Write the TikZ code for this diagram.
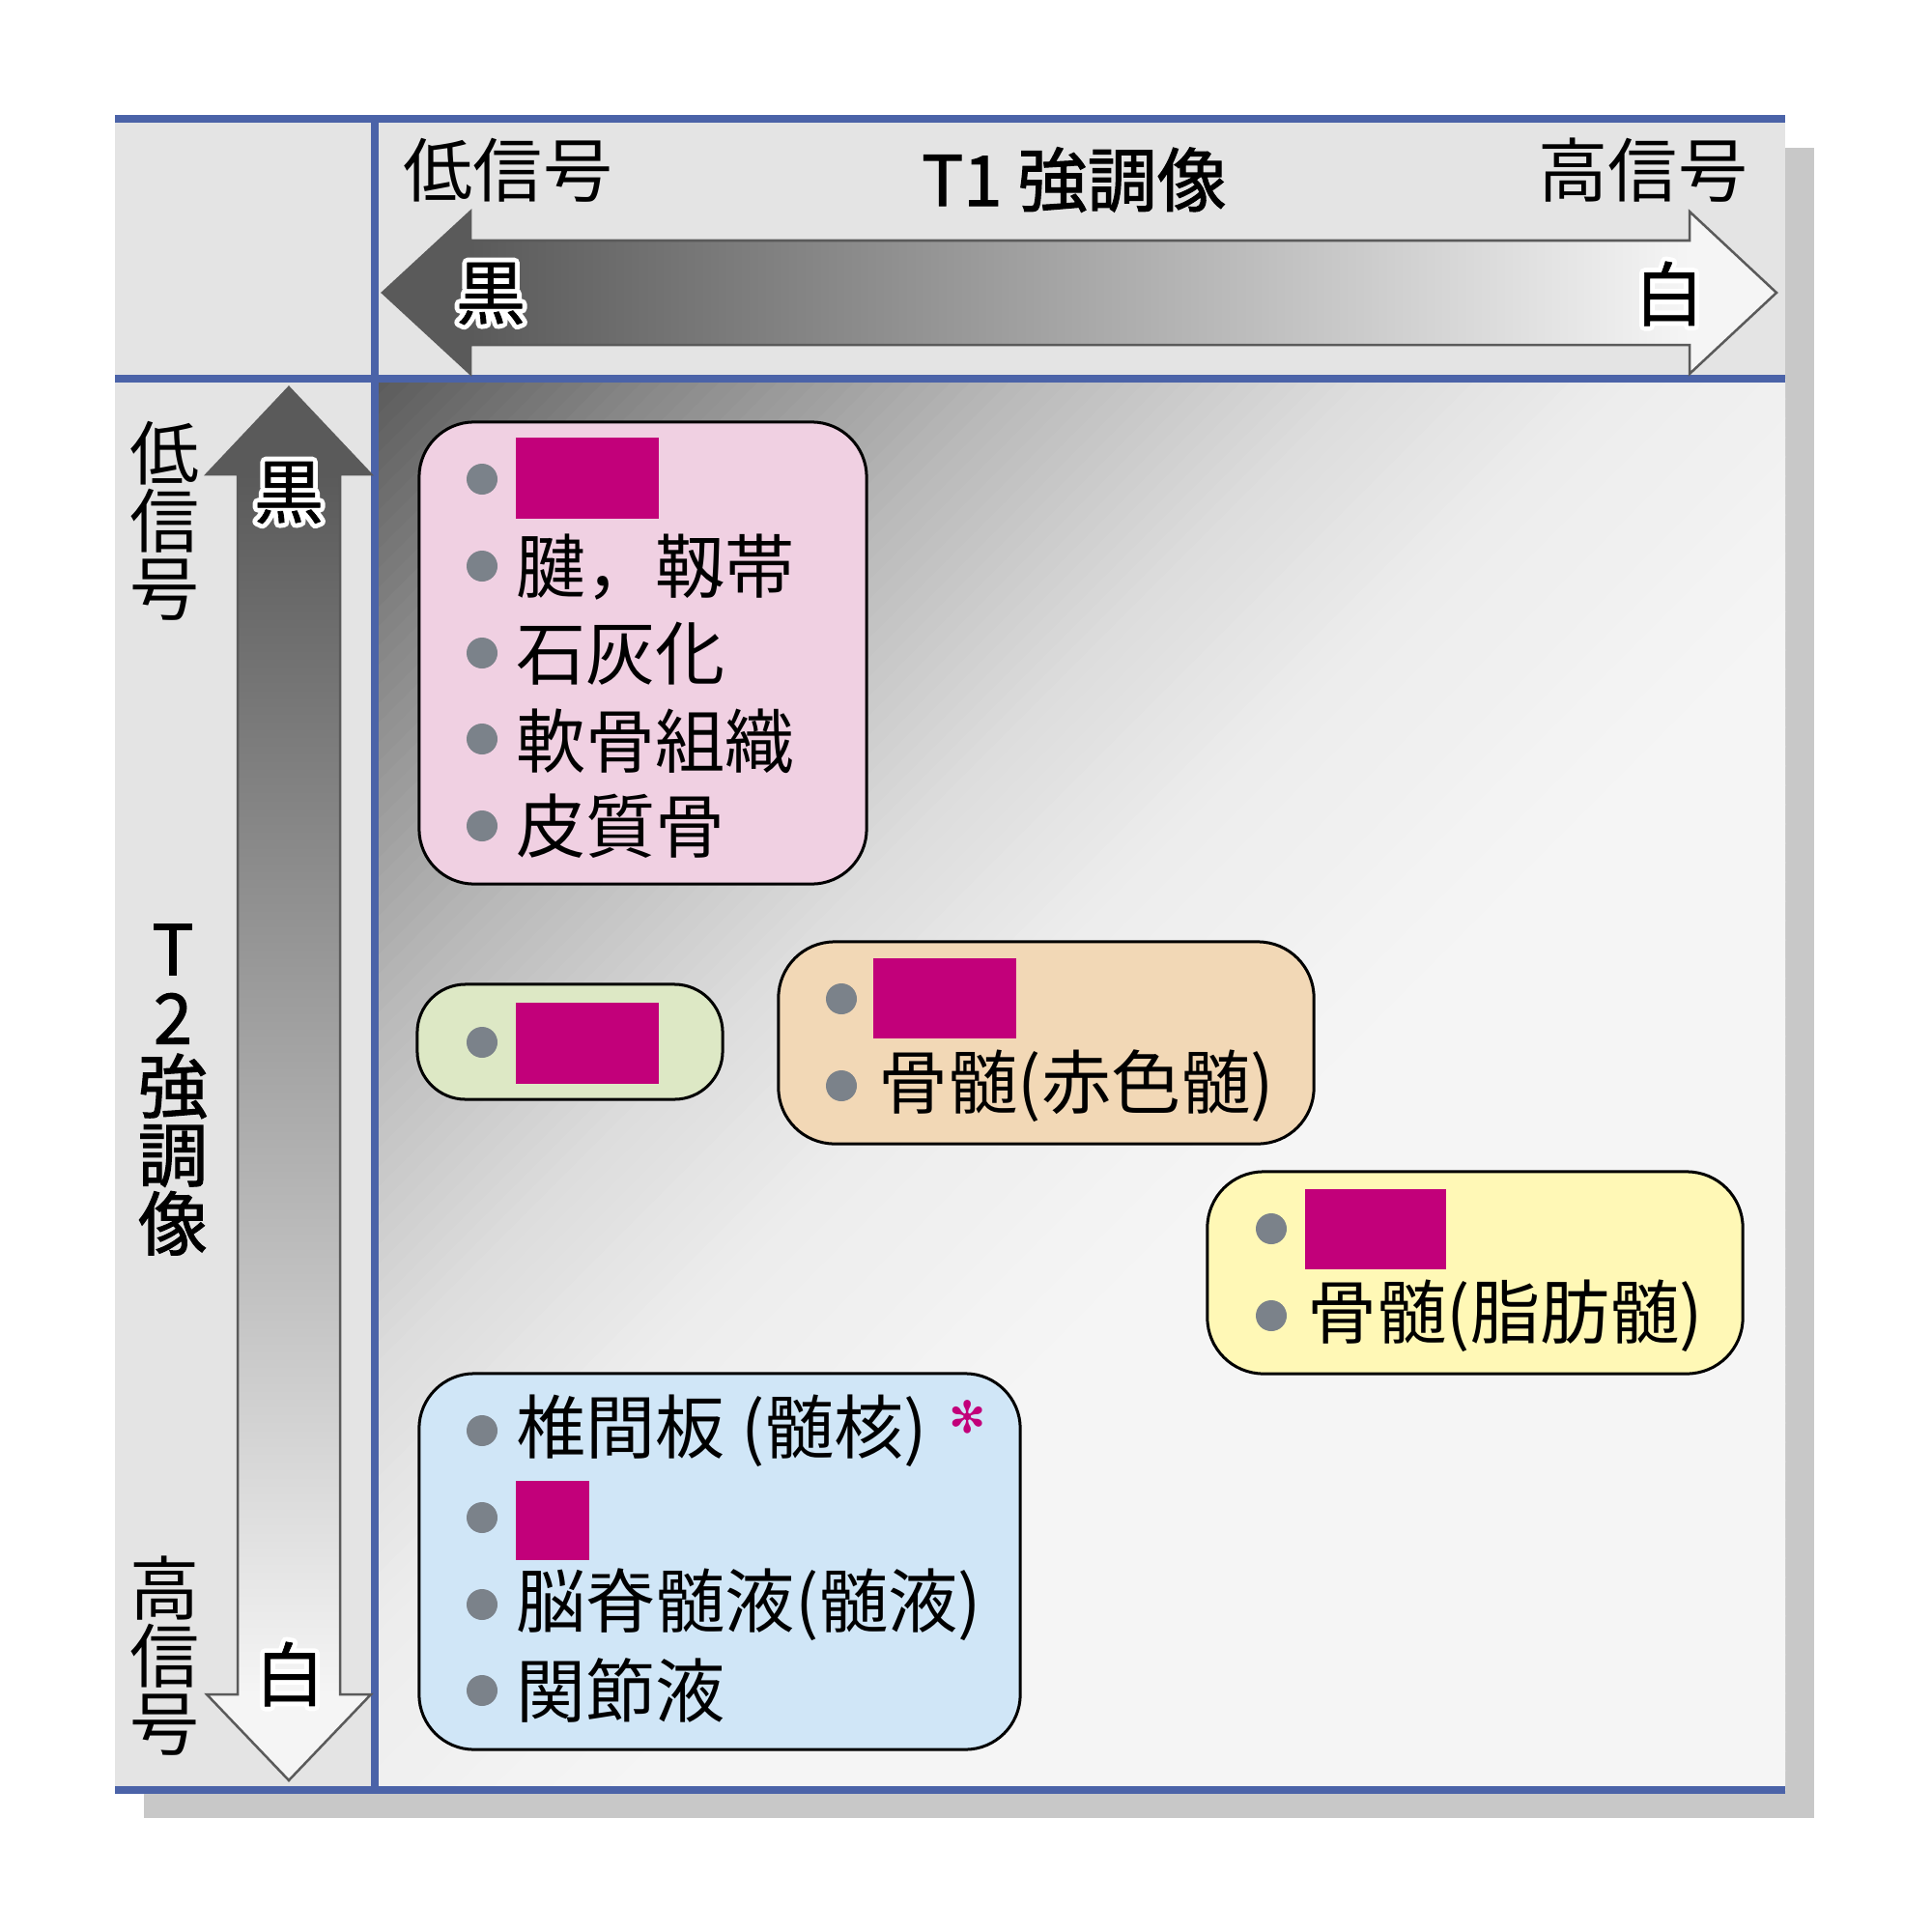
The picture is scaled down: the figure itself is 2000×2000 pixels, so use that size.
\documentclass[tikz,border=0pt]{standalone}
\usepackage{fontspec}
\usetikzlibrary{calc}
\newfontfamily\jp{Noto Sans CJK JP}
\newfontfamily\jpm{Noto Sans CJK JP}[FakeBold=1.5]
\newfontfamily\jph{Noto Sans CJK JP}[FakeBold=1]
\newfontfamily\symf{DejaVu Sans}
\definecolor{framegray}{RGB}{228,228,228}
\definecolor{shadowgray}{RGB}{200,200,200}
\definecolor{frameblue}{RGB}{75,99,168}
\definecolor{adark}{RGB}{90,90,90}
\definecolor{alight}{RGB}{245,245,245}
\definecolor{aline}{RGB}{90,90,90}
\definecolor{bulletgray}{RGB}{123,130,138}
\definecolor{mag}{RGB}{194,0,122}
\definecolor{boxpink}{RGB}{240,208,226}
\definecolor{boxgreen}{RGB}{221,232,197}
\definecolor{boxbeige}{RGB}{242,216,182}
\definecolor{boxyellow}{RGB}{255,248,182}
\definecolor{boxblue}{RGB}{208,230,247}
\newcommand\myfs{\fontsize{20.5pt}{20.5pt}\selectfont}
\newcommand\myvfs{\fontsize{20.5pt}{19.9pt}\selectfont}
\newcommand\mytfs{\fontsize{20.5pt}{20.2pt}\selectfont}
% black glyph with a white outline, set as one piece of text
\newcommand\halochar[1]{\rlap{\jp\special{pdf:literal direct 1 Tr 1 j 3 w}\textcolor{white}{#1}\special{pdf:literal direct 0 Tr}}{\jph #1}}
\tikzset{
  blueline/.style={draw=frameblue, line width=0.08cm},
  arrowline/.style={draw=aline, line width=0.025cm, line join=miter},
  lbl/.style={inner sep=0pt, font=\jp\myfs},
  vlbl/.style={inner sep=0pt, align=center, font=\jp\myvfs},
  halotext/.style={inner sep=0pt, font=\jp\myfs},
  boxtext/.style={anchor=west, inner sep=0pt, font=\jp\myfs},
  boxshape/.style={draw=black, line width=0.03cm, rounded corners=0.57cm, inner sep=0pt},
  bul/.style={fill=bulletgray},
  magrect/.style={fill=mag},
}
\begin{document}
\begin{tikzpicture}[x=0.01cm,y=-0.01cm]
\useasboundingbox (0,0) rectangle (2000,2000);
\fill[white] (0,0) rectangle (2000,2000);
% shadow and frame
\fill[shadowgray] (149,153) rectangle (1878,1882);
\fill[framegray] (119,123) rectangle (1848,1853);
% main gradient
\begin{scope}
\clip (388,392) rectangle (1848,1853);
\foreach \a in {0,20,...,2920}{
  \pgfmathsetmacro\v{\a<300 ? 0.36+0.18*\a/300 : (\a<650 ? 0.54+0.18*(\a-300)/350 : (\a<1000 ? 0.72+0.14*(\a-650)/350 : (\a<1300 ? 0.86+0.07*(\a-1000)/300 : (\a<1700 ? 0.93+0.03*(\a-1300)/400 : 0.96))))}
  \definecolor{stripc}{gray}{\v}
  \fill[stripc] (388+\a,392) -- (388+\a+22,392) -- (388,392+\a+22) -- (388,392+\a) -- cycle;
}
\end{scope}
% blue lines
\draw[blueline] (119,123) -- (1848,123);
\draw[blueline] (119,1853) -- (1848,1853);
\draw[blueline] (119,392) -- (1848,392);
\draw[blueline] (388,123) -- (388,1853);
% horizontal arrow (T1)
\fill[adark] (396,303) -- (487,219) -- (487,387) -- cycle;
\shade[left color=adark, right color=alight] (487,249) rectangle (1749,357);
\fill[alight] (1749,219) -- (1839,303) -- (1749,387) -- cycle;
\draw[arrowline] (396,303) -- (487,219) -- (487,249) -- (1749,249) -- (1749,219) -- (1839,303) -- (1749,387) -- (1749,357) -- (487,357) -- (487,387) -- cycle;
% vertical arrow (T2)
\fill[adark] (299,401) -- (384,491) -- (214,491) -- cycle;
\shade[top color=adark, bottom color=alight] (246,491) rectangle (352,1754);
\fill[alight] (214,1754) -- (384,1754) -- (299,1843) -- cycle;
\draw[arrowline] (299,401) -- (384,491) -- (352,491) -- (352,1754) -- (384,1754) -- (299,1843) -- (214,1754) -- (246,1754) -- (246,491) -- (214,491) -- cycle;
% halo labels
\node[halotext] (blackh) at (508,304) {\halochar{黒}};
\node[halotext] (whiteh) at (1728,304) {\halochar{白}};
\node[halotext] (blackv) at (299,510) {\halochar{黒}};
\node[halotext] (whitev) at (300,1733) {\halochar{白}};
% header labels
\node[lbl, font=\jpm\myfs] (t1title) at (1112,186) {T1 強調像};
\node[lbl] (lowtop) at (526,176) {低信号};
\node[lbl] (hightop) at (1701,176) {高信号};
\node[vlbl] (lowleft) at (171,539) {低\\信\\号};
\node[vlbl] (highleft) at (171,1714) {高\\信\\号};
\node[vlbl, font=\jpm\mytfs] (t2title) at (179,1128) {T\\2\\強\\調\\像};
% box 1 (pink)
\node[boxshape, fill=boxpink, minimum width=4.63cm, minimum height=4.78cm] (box1) at (665.5,676) {};
\fill[bul] (499,496) circle (16);
\fill[magrect] (534,453) rectangle (682,537);
\fill[bul] (499,586) circle (16);
\node[boxtext] (b1a) at (534,587) {腱，靱帯};
\fill[bul] (499,676) circle (16);
\node[boxtext] (b1b) at (534,677) {石灰化};
\fill[bul] (499,765) circle (16);
\node[boxtext] (b1c) at (534,767) {軟骨組織};
\fill[bul] (499,855) circle (16);
\node[boxtext] (b1d) at (534,855) {皮質骨};
% box 2 (green)
\node[boxshape, fill=boxgreen, rounded corners=0.5cm, minimum width=3.16cm, minimum height=1.19cm] (box2) at (590,1078.5) {};
\fill[bul] (499,1079) circle (16);
\fill[magrect] (534,1038) rectangle (682,1122);
% box 3 (beige)
\node[boxshape, fill=boxbeige, rounded corners=0.58cm, minimum width=5.54cm, minimum height=2.09cm] (box3) at (1083,1079.5) {};
\fill[bul] (871,1034) circle (16);
\fill[magrect] (904,992) rectangle (1052,1075);
\fill[bul] (871,1124) circle (16);
\node[boxtext] (b3a) at (909,1124) {骨髄(赤色髄)};
% box 4 (yellow)
\node[boxshape, fill=boxyellow, rounded corners=0.58cm, minimum width=5.54cm, minimum height=2.09cm] (box4) at (1527,1317.5) {};
\fill[bul] (1316,1272) circle (16);
\fill[magrect] (1351,1231) rectangle (1497,1314);
\fill[bul] (1316,1362) circle (16);
\node[boxtext] (b4a) at (1353,1362) {骨髄(脂肪髄)};
% box 5 (blue)
\node[boxshape, fill=boxblue, minimum width=6.22cm, minimum height=3.89cm] (box5) at (745,1616.5) {};
\fill[bul] (499,1481) circle (16);
\node[boxtext] (b5a) at (534,1481) {椎間板 (髄核)};
\node[inner sep=0pt, text=mag, font=\symf\fontsize{13pt}{13pt}\selectfont] (ast) at (1002,1467) {✻};
\fill[bul] (499,1571) circle (16);
\fill[magrect] (534,1533) rectangle (610,1615);
\fill[bul] (499,1661) circle (16);
\node[boxtext] (b5c) at (534,1661) {脳脊髄液(髄液)};
\fill[bul] (499,1750) circle (16);
\node[boxtext] (b5d) at (534,1750) {関節液};
\end{tikzpicture}
\end{document}
